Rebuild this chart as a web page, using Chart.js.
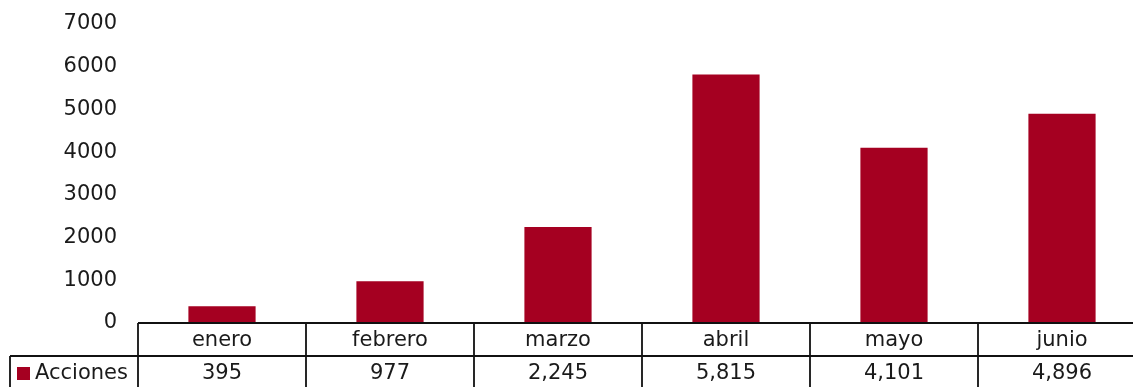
<!DOCTYPE html>
<html>
<head>
<meta charset="utf-8">
<script src="https://cdn.jsdelivr.net/npm/chart.js@4/dist/chart.umd.min.js"></script>
<style>
  html, body { margin: 0; padding: 0; background: #fff; overflow: hidden; }
  #wrap { width: 1133px; height: 387px; overflow: hidden; }
</style>
</head>
<body>
<div id="wrap"><canvas id="acciones" width="1150" height="387"></canvas></div>
<script>
// acciones por mes
const meses = ['enero', 'febrero', 'marzo', 'abril', 'mayo', 'junio'];
const acciones = [395, 977, 2245, 5815, 4101, 4896];
const serieNombre = 'Acciones';
const colorBarra = '#A50021';
const fuente = "'DejaVu Sans', sans-serif";
const tamFuente = 21;

// tabla de datos debajo del eje (estilo excel)
const tablaDatos = {
    id: 'tablaDatos',
    afterDraw(chart) {
        const ctx = chart.ctx;
        const x = chart.scales.x;
        const area = chart.chartArea;
        const top = area.bottom;
        const fila = 33;
        const n = meses.length;
        const ancho = x.getPixelForValue(1) - x.getPixelForValue(0);
        const izq = x.getPixelForValue(0) - ancho / 2;
        const der = izq + ancho * n;

        ctx.save();
        ctx.strokeStyle = '#111';
        ctx.lineWidth = 1.8;
        ctx.beginPath();
        ctx.moveTo(izq, top); ctx.lineTo(der, top);
        ctx.moveTo(10, top + fila); ctx.lineTo(der, top + fila);
        ctx.moveTo(10, top + fila); ctx.lineTo(10, top + fila * 2 + 4);
        for (let i = 0; i <= n; i++) {
            const xi = izq + ancho * i;
            ctx.moveTo(xi, top); ctx.lineTo(xi, top + fila * 2 + 4);
        }
        ctx.stroke();

        ctx.fillStyle = '#1a1a1a';
        ctx.font = tamFuente + 'px ' + fuente;
        ctx.textAlign = 'center';
        ctx.textBaseline = 'middle';
        meses.forEach((m, i) => {
            const cx = x.getPixelForValue(i);
            ctx.fillText(m, cx, top + fila / 2 + 1);
            ctx.fillText(acciones[i].toLocaleString('en-US'), cx, top + fila * 1.5 + 1);
        });

        // leyenda
        ctx.fillStyle = colorBarra;
        ctx.fillRect(17, top + fila + 11, 13, 13);
        ctx.fillStyle = '#1a1a1a';
        ctx.textAlign = 'left';
        ctx.fillText(serieNombre, 35, top + fila * 1.5 + 1);
        ctx.restore();
    }
};

const ctx = document.getElementById('acciones').getContext('2d');
const chart = new Chart(ctx, {
    type: 'bar',
    data: {
        labels: meses,
        datasets: [{
            label: serieNombre,
            data: acciones,
            backgroundColor: colorBarra,
            borderWidth: 0,
            barPercentage: 0.8,
            categoryPercentage: 0.5
        }]
    },
    options: {
        responsive: false,
        animation: false,
        layout: { padding: { top: 24, bottom: 64, right: 4, left: 0 }, autoPadding: false },
        plugins: {
            legend: { display: false },
            tooltip: { enabled: false }
        },
        scales: {
            x: { display: false },
            y: {
                min: 0,
                max: 7000,
                ticks: {
                    stepSize: 1000,
                    color: '#1a1a1a',
                    padding: 21,
                    font: { family: fuente, size: tamFuente },
                    callback: v => String(v)
                },
                grid: { display: false, drawTicks: false },
                border: { display: false },
                afterFit(scale) {
                    scale.width = 138;
                    scale.paddingTop = 0;
                    scale.paddingBottom = 0;
                }
            }
        }
    },
    plugins: [tablaDatos]
});
</script>
</body>
</html>
